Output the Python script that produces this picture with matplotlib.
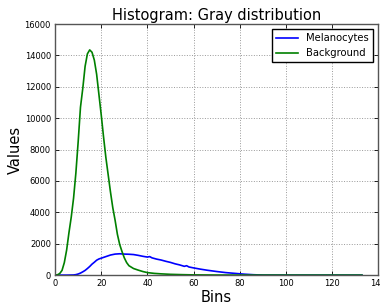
import matplotlib

matplotlib.use("Agg")
import matplotlib.pyplot as plt

# gray-level histogram values
bg_bins = [0, 1, 2, 3, 4, 5, 6, 7, 8, 9, 10, 11, 12, 13, 14, 15, 16, 17, 18, 19,
           20, 21, 22, 23, 24, 25, 26, 27, 28, 29, 30, 31, 32, 34, 36, 38, 40,
           43, 46, 50, 55, 60, 70, 80, 100, 133]
bg_vals = [0, 20, 100, 300, 800, 1600, 2700, 3700, 4900, 6500, 8500, 10700,
           11900, 13300, 14100, 14350, 14200, 13700, 12800, 11500, 10200, 8800,
           7500, 6400, 5300, 4300, 3500, 2600, 1950, 1500, 1100, 800, 600, 420,
           320, 230, 160, 110, 80, 50, 30, 15, 6, 3, 1, 0]

mel_bins = [0, 5, 8, 9, 10, 11, 12, 13, 14, 15, 16, 17, 18, 19, 20, 22, 24, 26,
            28, 30, 32, 34, 36, 38, 40, 41, 42, 44, 46, 48, 50, 52, 54, 56, 57,
            58, 60, 63, 66, 70, 74, 78, 82, 86, 90, 100, 133]
mel_vals = [0, 0, 10, 30, 70, 130, 210, 300, 420, 550, 700, 820, 950, 1030,
            1080, 1180, 1280, 1340, 1360, 1340, 1330, 1310, 1260, 1200, 1150,
            1180, 1100, 1020, 960, 880, 810, 720, 650, 560, 600, 520, 460, 380,
            310, 230, 160, 110, 60, 25, 5, 0, 0]

fig = plt.figure(figsize=(3.8, 3.04), dpi=100)
ax = fig.add_axes([0.145, 0.095, 0.85, 0.826])

ax.plot(mel_bins, mel_vals, color="#0000ff", lw=1.2, label="Melanocytes")
ax.plot(bg_bins, bg_vals, color="#008000", lw=1.2, label="Background")

ax.set_xlim(0, 140)
ax.set_ylim(0, 16000)
ax.set_xticks(range(0, 141, 20))
ax.set_yticks(range(0, 16001, 2000))
ax.tick_params(labelsize=6, direction="in", top=True, right=True,
               length=3, width=0.6, pad=3)
ax.grid(True, color="#999999", linestyle=":", linewidth=0.7)
for s in ax.spines.values():
    s.set_color("#555555")
    s.set_linewidth(1.0)

ax.set_title("Histogram: Gray distribution", fontsize=10.5, pad=3)
ax.set_xlabel("Bins", fontsize=10.5, labelpad=1)
ax.set_ylabel("Values", fontsize=10.5, labelpad=1.5)
ax.legend(loc="upper right", fontsize=7.2, fancybox=False, edgecolor="black",
          framealpha=1, handlelength=2.2, borderaxespad=0.5)

fig.savefig("out.png", dpi=100)
